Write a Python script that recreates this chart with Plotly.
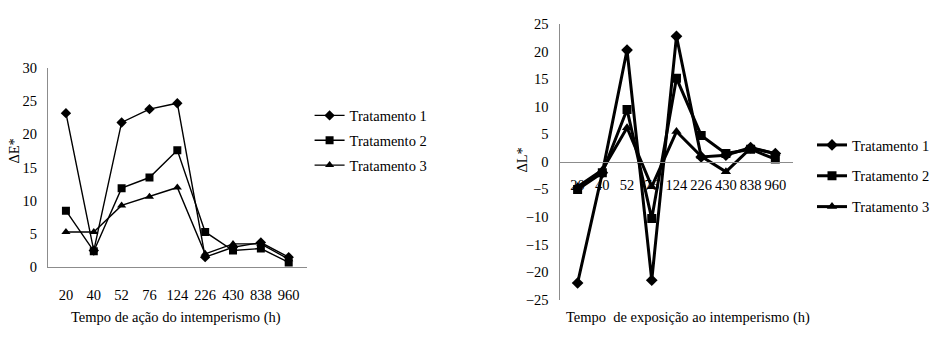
import plotly.graph_objects as go

W, H = 935, 338

# Exposure times (h), shown as categories
tempos = ["20", "40", "52", "76", "124", "226", "430", "838", "960"]

# Colour difference ΔE*
de_trat1 = [23.2, 2.5, 21.8, 23.8, 24.7, 1.5, 3.0, 3.7, 1.5]
de_trat2 = [8.5, 2.4, 11.9, 13.5, 17.6, 5.3, 2.5, 2.8, 0.7]
de_trat3 = [5.3, 5.3, 9.3, 10.6, 12.0, 2.0, 3.5, 3.5, 1.2]

# Lightness difference ΔL*
dl_trat1 = [-22.0, -2.0, 20.3, -21.5, 22.8, 0.9, 1.2, 2.6, 1.5]
dl_trat2 = [-5.0, -2.0, 9.5, -10.3, 15.2, 4.8, 1.5, 2.3, 0.5]
dl_trat3 = [-4.5, -1.5, 6.2, -4.5, 5.5, 1.0, -1.8, 2.5, 1.5]

nomes = ["Tratamento 1", "Tratamento 2", "Tratamento 3"]
simbolos = ["diamond", "square", "triangle-up"]

FONT = "Liberation Serif, Times New Roman, serif"
AXIS_GREY = "#8c8c8c"


def px_x(p):
    return p / W


def px_y(p):
    return 1 - p / H


def txt(size=14.5):
    return dict(family=FONT, size=size, color="black")


fig = go.Figure()

# Left panel: ΔE*
for nome, ys, sym in zip(nomes, [de_trat1, de_trat2, de_trat3], simbolos):
    fig.add_trace(go.Scatter(
        x=tempos, y=ys, name=nome, mode="lines+markers",
        line=dict(color="black", width=1.4),
        marker=dict(symbol=sym, size=8, color="black"),
        xaxis="x", yaxis="y", legend="legend", legendgroup="a" + nome,
    ))

# Right panel: ΔL*
for nome, ys, sym in zip(nomes, [dl_trat1, dl_trat2, dl_trat3], simbolos):
    fig.add_trace(go.Scatter(
        x=tempos, y=ys, name=nome, mode="lines+markers",
        line=dict(color="black", width=3),
        marker=dict(symbol=sym, size=9, color="black"),
        xaxis="x2", yaxis="y2", legend="legend2", legendgroup="b" + nome,
    ))

# Right panel geometry (pixels)
r_left, r_right, r_top, r_bottom = 572, 809, 17, 306
r_min, r_max = -25, 25
zero_px = r_top + (r_max - 0) / (r_max - r_min) * (r_bottom - r_top)

common_axis = dict(
    showline=True, linecolor=AXIS_GREY, linewidth=1,
    showgrid=False, zeroline=False,
    ticks="outside", tickcolor="rgba(0,0,0,0)",
    tickfont=txt(),
)

fig.update_layout(
    width=W, height=H,
    margin=dict(l=0, r=0, t=0, b=0),
    paper_bgcolor="white", plot_bgcolor="white",
    font=txt(),
    xaxis=dict(
        domain=[px_x(49), px_x(313)], anchor="y",
        type="category", tickangle=0, ticklen=14, **common_axis,
    ),
    yaxis=dict(
        domain=[px_y(272), px_y(63)], anchor="x",
        range=[0, 30], dtick=5, ticklen=7, **common_axis,
    ),
    xaxis2=dict(
        domain=[px_x(r_left), px_x(r_right)], anchor="free",
        position=px_y(zero_px),
        type="category", tickangle=0, ticklen=10, **common_axis,
    ),
    yaxis2=dict(
        domain=[px_y(r_bottom), px_y(r_top)], anchor="x2",
        range=[r_min, r_max], dtick=5, ticklen=8, **common_axis,
    ),
    legend=dict(
        x=px_x(316), y=px_y(96), xanchor="left", yanchor="top",
        bgcolor="rgba(0,0,0,0)", itemwidth=30, tracegroupgap=3,
        traceorder="grouped", font=txt(),
    ),
    legend2=dict(
        x=px_x(829), y=px_y(127), xanchor="left", yanchor="top",
        bgcolor="rgba(0,0,0,0)", itemwidth=30, tracegroupgap=9,
        traceorder="grouped", font=txt(),
    ),
    annotations=[
        dict(text="Tempo de ação do intemperismo (h)", x=px_x(180), y=px_y(325),
             xanchor="center", yanchor="middle",
             xref="paper", yref="paper", showarrow=False, font=txt()),
        dict(text="Tempo  de exposição ao intemperismo (h)", x=px_x(702), y=px_y(325),
             xanchor="center", yanchor="middle",
             xref="paper", yref="paper", showarrow=False, font=txt()),
        dict(text="ΔE*", x=px_x(14), y=px_y(150), textangle=-90,
             xanchor="center", yanchor="middle",
             xref="paper", yref="paper", showarrow=False, font=txt()),
        dict(text="ΔL*", x=px_x(533), y=px_y(160), textangle=-90,
             xanchor="center", yanchor="middle",
             xref="paper", yref="paper", showarrow=False, font=txt()),
    ],
)

fig.write_html("out.html")
